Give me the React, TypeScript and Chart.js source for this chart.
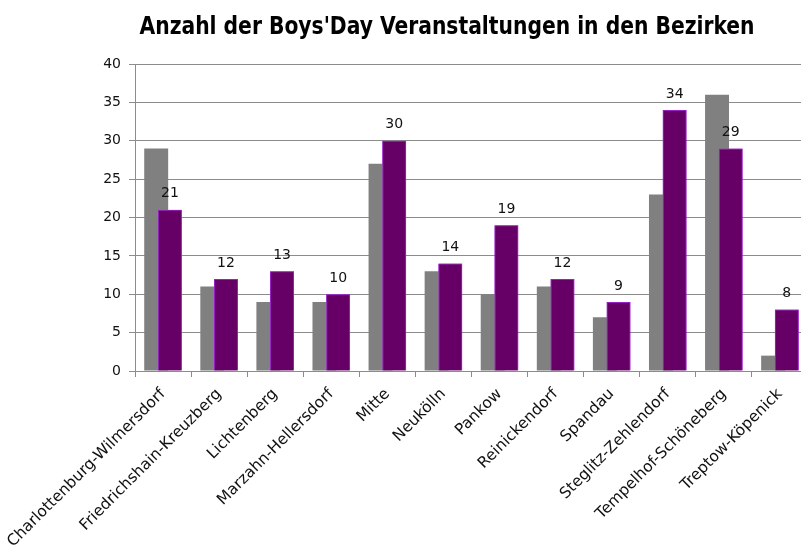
import React, { useEffect, useRef } from 'react';
import { Chart, registerables } from 'chart.js';

Chart.register(...registerables);

const chartTitle = "Anzahl der Boys'Day Veranstaltungen in den Bezirken";

const categories = [
  'Charlottenburg-Wilmersdorf',
  'Friedrichshain-Kreuzberg',
  'Lichtenberg',
  'Marzahn-Hellersdorf',
  'Mitte',
  'Neukölln',
  'Pankow',
  'Reinickendorf',
  'Spandau',
  'Steglitz-Zehlendorf',
  'Tempelhof-Schöneberg',
  'Treptow-Köpenick',
];

const seriesGray = [29, 11, 9, 9, 27, 13, 10, 11, 7, 23, 36, 2];
const seriesPurple = [21, 12, 13, 10, 30, 14, 19, 12, 9, 34, 29, 8];

const yMin = 0;
const yMax = 40;
const yStep = 5;

const FONT = '"DejaVu Sans", Verdana, sans-serif';

const overlayPlugin = {
  id: 'overlay',
  afterDatasetsDraw(chart: any) {
    const meta = chart.getDatasetMeta(1);
    const ctx = chart.ctx;
    ctx.save();
    meta.controller.draw();
    ctx.restore();
    ctx.save();
    ctx.font = '14px ' + FONT;
    ctx.fillStyle = '#111';
    ctx.textAlign = 'center';
    ctx.textBaseline = 'bottom';
    meta.data.forEach((el: any, i: number) => {
      ctx.fillText(String(seriesPurple[i]), el.x, el.y - 9);
    });
    ctx.restore();
  },
  afterDraw(chart: any) {
    const ctx = chart.ctx;
    ctx.save();
    ctx.font = 'bold 25px "DejaVu Sans Condensed", "DejaVu Sans", sans-serif';
    const w = ctx.measureText(chartTitle).width;
    const target = 615;
    const sx = target / w;
    ctx.translate(447, 34);
    ctx.scale(sx, 1);
    ctx.fillStyle = '#000';
    ctx.textAlign = 'center';
    ctx.textBaseline = 'alphabetic';
    ctx.fillText(chartTitle, 0, 0);
    ctx.restore();
  },
};

export default function App() {
  const ref = useRef<HTMLCanvasElement | null>(null);

  useEffect(() => {
    if (!ref.current) return;
    const chart = new Chart(ref.current, {
      type: 'bar',
      data: {
        labels: categories,
        datasets: [
          {
            label: 'Serie 1',
            data: seriesGray,
            backgroundColor: '#808080',
            borderWidth: 0,
            categoryPercentage: 0.488,
            barPercentage: 1.75,
          },
          {
            label: 'Serie 2',
            data: seriesPurple,
            backgroundColor: '#660066',
            borderColor: '#9a1fc8',
            borderWidth: 1,
            categoryPercentage: 0.488,
            barPercentage: 1.75,
          },
        ],
      },
      options: {
        animation: false,
        responsive: false,
        maintainAspectRatio: false,
        layout: { padding: { top: 64, right: 12, left: 0, bottom: 0 } },
        plugins: {
          legend: { display: false },
          title: { display: false },
          tooltip: { enabled: false },
        },
        scales: {
          x: {
            offset: true,
            grid: {
              display: true,
              offset: true,
              drawOnChartArea: false,
              drawTicks: true,
              tickLength: 6,
              color: '#8c8c8c',
            },
            border: { display: true, color: '#8c8c8c' },
            ticks: {
              autoSkip: false,
              maxRotation: 45,
              minRotation: 45,
              padding: 8,
              color: '#111',
              font: { family: FONT, size: 15.5 },
            },
            afterFit(scale: any) {
              scale.height = 187;
              scale.paddingLeft = 0;
              scale.paddingRight = 0;
            },
          },
          y: {
            min: yMin,
            max: yMax,
            ticks: {
              stepSize: yStep,
              padding: 8,
              color: '#111',
              font: { family: FONT, size: 14 },
            },
            grid: {
              color: '#8c8c8c',
              tickLength: 6,
            },
            border: { display: true, color: '#8c8c8c' },
            afterFit(scale: any) {
              scale.width = 135;
            },
          },
        },
      },
      plugins: [overlayPlugin],
    });
    return () => chart.destroy();
  }, []);

  return (
    <div
      style={{
        position: 'absolute',
        left: 0,
        top: 0,
        width: 801,
        height: 558,
        overflow: 'hidden',
        background: '#fff',
      }}
    >
      <canvas ref={ref} width={820} height={558} style={{ display: 'block' }} />
    </div>
  );
}
